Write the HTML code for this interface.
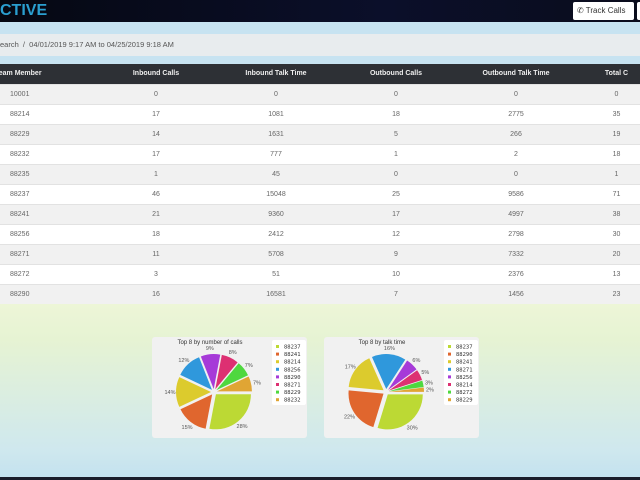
<!DOCTYPE html>
<html><head><meta charset="utf-8"><style>
*{margin:0;padding:0;box-sizing:border-box}
body{width:640px;height:480px;overflow:hidden;position:relative;font-family:"Liberation Sans",sans-serif;background:linear-gradient(#eef6d8 300px,#e6f3d3 340px,#cfe8ee 450px,#c4e2ef 476px)}
.top{position:absolute;left:0;top:0;width:640px;height:22px;background:linear-gradient(90deg,#050812,#0b0f2a 60%,#0a0c1c)}
.logo{position:absolute;left:0;top:2px;color:#2a9fd0;font-weight:bold;font-size:16px}
.btn{position:absolute;top:2px;height:18px;background:#fff;border-radius:2px;font-size:8px;color:#333;line-height:18px;padding:0 4px}
.band{position:absolute;left:0;top:22px;width:640px;height:42px;background:#c7e3f1}
.crumb{position:absolute;left:0;top:34px;width:640px;height:22px;background:#e8ecee;font-size:7.5px;color:#555;line-height:22px;padding-left:0}
table{position:absolute;left:-8px;top:64px;width:665px;border-collapse:collapse;font-size:7px;color:#666}
th{background:#2d3035;color:#eee;height:20px;font-weight:bold;text-align:center}
td{height:20px;text-align:center;border-top:1px solid #e2e2e2}
tr.g td{background:#f1f1f1}tr.w td{background:#fff}
td:first-child{text-align:left;padding-left:18px}
th:first-child{text-align:left;padding-left:3px}
.card{position:absolute;top:337px;height:101px;background:#f1f1f1;border-radius:3px}
.foot{position:absolute;left:0;top:477px;width:640px;height:3px;background:#1a1d2b}
</style></head><body>
<div class="top"><div class="logo">CTIVE</div>
<div class="btn" style="left:573px;width:61px">&#9990; Track Calls</div>
<div class="btn" style="left:637px;width:10px"></div></div>
<div class="band"></div>
<div class="crumb">earch &nbsp;/ &nbsp;04/01/2019 9:17 AM to 04/25/2019 9:18 AM</div>
<table>
<tr><th style="width:104px">Team Member</th><th style="width:120px">Inbound Calls</th><th style="width:120px">Inbound Talk Time</th><th style="width:120px">Outbound Calls</th><th style="width:120px">Outbound Talk Time</th><th>Total C</th></tr>
<tbody id="tb"></tbody></table>
<div class="card" style="left:152px;width:155px"></div>
<div class="card" style="left:324px;width:155px"></div>
<svg id="pies" width="640" height="480" style="position:absolute;left:0;top:0"></svg>
<div class="foot"></div>
<script>
const rows=[["10001",0,0,0,0,0],["88214",17,1081,18,2775,35],["88229",14,1631,5,266,19],["88232",17,777,1,2,18],["88235",1,45,0,0,1],["88237",46,15048,25,9586,71],["88241",21,9360,17,4997,38],["88256",18,2412,12,2798,30],["88271",11,5708,9,7332,20],["88272",3,51,10,2376,13],["88290",16,16581,7,1456,23]];
const tb=document.getElementById('tb');
rows.forEach((r,i)=>{const tr=document.createElement('tr');tr.className=i%2?'w':'g';


tr.innerHTML=r.map(v=>'<td>'+v+'</td>').join('');tb.appendChild(tr);});

const callsLabels=["88237","88241","88214","88256","88290","88271","88229","88232"];
const callsValues=[28,15,14,12,9,8,7,7];
const talkLabels=["88237","88290","88241","88271","88256","88214","88272","88229"];
const talkValues=[30,22,17,16,6,5,3,2];
const colors=["#bcd934","#e0662e","#dccb2d","#2f98dc","#a63ad8","#dd3072","#4fd83f","#e0a534"];
const NS='http://www.w3.org/2000/svg';const svg=document.getElementById('pies');
function mk(t,a){const e=document.createElementNS(NS,t);for(const k in a)e.setAttribute(k,a[k]);svg.appendChild(e);return e;}
function pie(cx,cy,r,vals,labs,title,lx){
 const tot=vals.reduce((a,b)=>a+b,0);let a0=0;
 const tt=mk('text',{x:cx-4,y:344,'font-size':6,fill:'#333','text-anchor':'middle'});tt.textContent=title;
 
 
 vals.forEach((v,i)=>{const a1=a0+v/tot*2*Math.PI,m=(a0+a1)/2,dx=3*Math.cos(m),dy=3*Math.sin(m);
  const x0=cx+dx+r*Math.cos(a0),y0=cy+dy+r*Math.sin(a0),x1=cx+dx+r*Math.cos(a1),y1=cy+dy+r*Math.sin(a1);
  const p=mk('path',{d:`M${cx+dx},${cy+dy}L${x0},${y0}A${r},${r} 0 ${a1-a0>Math.PI?1:0} 1 ${x1},${y1}Z`,fill:colors[i]});
  
  
  const t=mk('text',{x:cx+(r+9)*Math.cos(m),y:cy+(r+9)*Math.sin(m)+2,'font-size':5.5,fill:'#555','text-anchor':'middle'});t.textContent=v+'%';
  
  
  a0=a1;});
 const lg=mk('rect',{x:lx,y:340,width:34,height:65,rx:2,fill:'#fff'});
 
 
 labs.forEach((l,i)=>{const y=347+i*7.6;mk('rect',{x:lx+4,y:y-2,width:3,height:3,fill:colors[i]});
  const t=mk('text',{x:lx+12,y:y+1.5,'font-size':5.5,fill:'#333','font-family':'DejaVu Sans Mono,monospace'});t.textContent=l;
  
  });
}
pie(214,392,35,callsValues,callsLabels,'Top 8 by number of calls',272);
pie(386,392,35,talkValues,talkLabels,'Top 8 by talk time',444);
</script>
</body></html>
